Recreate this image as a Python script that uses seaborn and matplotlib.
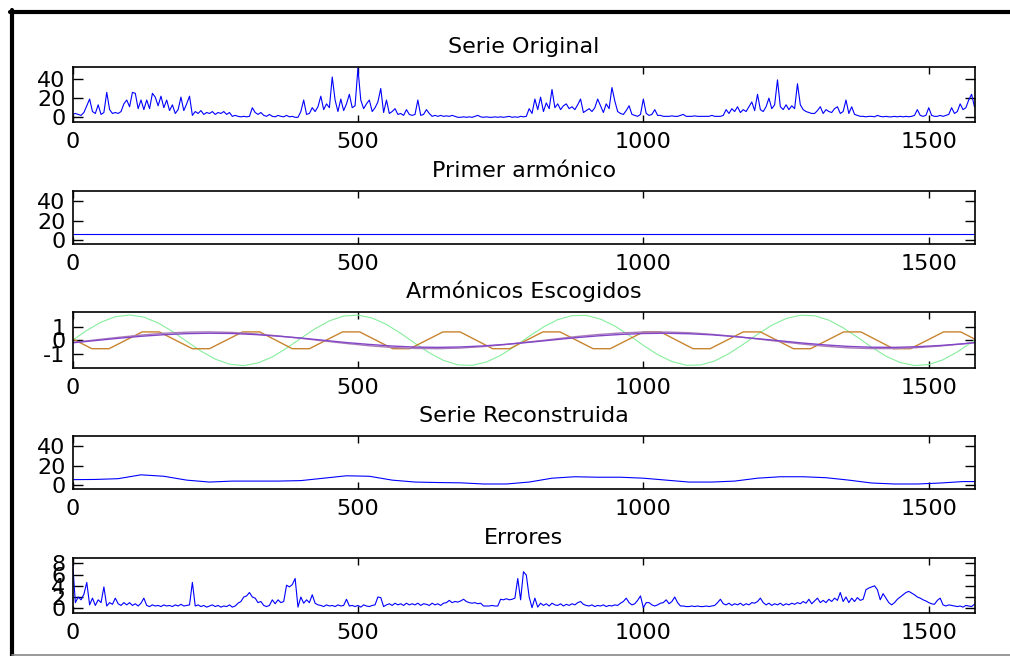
import numpy as np
import pandas as pd
import matplotlib
matplotlib.use("Agg")
import matplotlib.pyplot as plt
import seaborn as sns
from matplotlib.lines import Line2D

# ---------------- data ----------------
titles = ["Serie Original", "Primer armónico", "Armónicos Escogidos",
          "Serie Reconstruida", "Errores"]
x_ticks = [0, 500, 1000, 1500]
x_tick_labels = ["0", "500", "1000", "1500"]

step_noisy = 5
original = [
    3, 4, 3, 2, 5, 12, 19, 6, 4, 13, 3, 5, 26, 8, 4, 5, 4, 6, 14, 18,
    11, 26, 25, 9, 18, 8, 18, 9, 25, 21, 12, 22, 10, 18, 7, 13, 4, 8, 21, 7,
    14, 22, 2, 6, 4, 7, 3, 5, 4, 6, 3, 5, 4, 6, 3, 5, 1, 2, 1, 0.5,
    1, 0.5, 1, 10, 5, 3, 5, 2, 1, 3, 1, 0.5, 2, 1, 0.5, 2, 0.5, 1, 0, 0,
    6, 18, 3, 4, 10, 6, 11, 22, 8, 14, 10, 42, 18, 6, 19, 7, 14, 24, 10, 12,
    51, 18, 9, 14, 18, 6, 10, 16, 30, 5, 18, 4, 6, 9, 3, 4, 2, 8, 3, 2,
    3, 18, 2, 3, 8, 4, 1, 2, 1, 2, 1, 1.5, 1, 2, 1, 0, 0, 0.5, 0, 0.5,
    0, 1, 2, 0.5, 0, 0.5, 0, 0, 0.5, 0, 0.5, 0, 0.5, 1, 0, 0.5, 0, 1, 0.5, 1,
    9, 4, 19, 8, 21, 6, 15, 9, 29, 10, 14, 8, 12, 14, 9, 11, 8, 13, 19, 5,
    7, 9, 6, 10, 19, 12, 5, 14, 9, 31, 17, 6, 4, 3, 7, 12, 3, 2, 1, 3,
    19, 4, 2, 3, 8, 2, 2, 1, 1, 1, 1.5, 1, 1, 2, 3, 1, 1, 1, 1.5, 1,
    1, 1, 1, 1, 2, 1, 1, 1, 2, 8, 4, 9, 6, 11, 5, 8, 6, 11, 16, 7,
    24, 8, 6, 11, 20, 9, 13, 39, 11, 8, 13, 8, 12, 9, 35, 13, 8, 6, 5, 4,
    4, 7, 11, 4, 8, 6, 5, 9, 11, 4, 6, 18, 4, 11, 3, 2, 1, 1, 0.5, 1,
    1, 0.5, 2, 1, 0.5, 1, 0.5, 0.5, 1, 0.5, 1, 0.5, 1, 0.5, 1, 2, 8, 2, 1, 2,
    10, 2, 1, 1, 2, 1, 2, 3, 10, 4, 6, 14, 8, 10, 18, 24, 11,
]

errors = [
    8.5, 1.0, 2.0, 1.5, 2.5, 4.6, 0.6, 1.8, 0.5, 1.5, 1.0, 3.8, 0.4, 1.0, 0.7, 1.8, 0.8, 0.5, 1.0, 0.6,
    1.0, 0.5, 0.8, 0.4, 0.9, 1.8, 0.5, 0.3, 0.6, 0.4, 0.5, 0.3, 0.6, 0.4, 0.5, 0.3, 0.6, 0.4, 0.7, 0.4,
    0.5, 0.6, 4.6, 0.4, 0.6, 0.3, 0.5, 0.2, 0.4, 0.6, 0.3, 0.5, 0.2, 0.4, 0.3, 0.6, 0.2, 0.4, 0.9, 1.2,
    2.0, 2.2, 2.8, 2.0, 1.8, 1.0, 1.2, 0.5, 0.3, 0.5, 1.5, 0.8, 1.5, 1.0, 1.2, 4.1, 3.8, 4.2, 5.3, 0.2,
    2.0, 0.9, 1.5, 1.0, 2.4, 0.9, 0.6, 0.5, 0.3, 0.6, 0.4, 0.5, 0.3, 0.6, 0.4, 0.5, 1.6, 0.4, 0.5, 0.3,
    0.5, 0.2, 0.6, 0.4, 0.3, 0.5, 0.6, 2.0, 1.9, 0.3, 0.6, 0.8, 0.5, 0.9, 0.6, 0.8, 0.5, 0.9, 0.6, 0.8,
    0.6, 0.9, 0.5, 0.8, 0.7, 0.5, 0.9, 0.6, 0.8, 0.5, 0.9, 1.0, 1.4, 1.0, 1.2, 1.1, 1.3, 1.6, 1.2, 1.0,
    0.9, 1.0, 0.8, 0.9, 0.4, 0.4, 0.4, 0.5, 0.4, 0.4, 1.6, 1.5, 1.7, 1.5, 1.6, 1.8, 5.3, 1.5, 6.5, 5.9,
    2.0, 0.1, 1.8, 0.2, 0.9, 0.5, 0.8, 0.4, 0.9, 0.6, 0.5, 0.8, 0.4, 0.7, 0.5, 0.8, 0.6, 1.0, 1.2, 0.7,
    0.5, 0.4, 0.6, 0.3, 0.5, 0.4, 0.6, 0.3, 0.5, 0.4, 0.6, 0.5, 0.9, 1.2, 1.8, 1.0, 0.6, 0.8, 1.4, 2.2,
    0.1, 1.0, 1.0, 0.6, 0.4, 0.6, 0.9, 1.0, 1.5, 0.8, 1.2, 2.0, 1.0, 0.4, 0.4, 0.3, 0.3, 0.4, 0.3, 0.4,
    0.3, 0.3, 0.4, 0.3, 0.4, 0.5, 1.0, 1.6, 0.8, 0.6, 0.9, 0.5, 0.8, 0.6, 0.9, 0.5, 0.8, 0.6, 1.0, 0.9,
    1.2, 1.8, 1.0, 0.6, 0.9, 0.5, 0.8, 0.6, 0.9, 0.5, 0.8, 0.6, 0.9, 0.7, 1.0, 0.8, 1.2, 0.9, 1.6, 0.8,
    1.3, 1.8, 1.0, 1.4, 1.0, 1.6, 1.2, 1.8, 1.4, 2.8, 1.2, 2.0, 1.0, 1.8, 1.2, 1.9, 1.4, 1.6, 3.3, 3.6,
    3.8, 4.0, 3.3, 1.5, 2.6, 1.8, 1.0, 0.6, 1.0, 1.6, 2.0, 2.4, 2.8, 3.0, 2.7, 2.4, 2.0, 1.8, 1.5, 1.3,
    1.0, 0.8, 0.7, 1.4, 1.8, 0.6, 0.4, 0.6, 0.5, 0.4, 0.3, 0.4, 0.2, 0.5, 0.4, 0.3, 0.7,
]

first_harmonic_x = [0, 1580]
first_harmonic = [5.8, 5.8]

green_x = list(range(0, 1576, 25)) + [1580]
green = [0, 0.74, 1.36, 1.77, 1.90, 1.74, 1.30, 0.67, -0.08, -0.81, -1.41, -1.79, -1.90,
         -1.70, -1.25, -0.59, 0.15, 0.87, 1.46, 1.82, 1.89, 1.67, 1.19, 0.52, -0.23,
         -0.94, -1.51, -1.84, -1.88, -1.63, -1.13, -0.45, 0.30, 1.00, 1.55, 1.85, 1.87,
         1.59, 1.07, 0.38, -0.38, -1.07, -1.59, -1.87, -1.85, -1.55, -1.00, -0.30, 0.45,
         1.13, 1.63, 1.88, 1.84, 1.51, 0.94, 0.23, -0.52, -1.19, -1.67, -1.89, -1.82,
         -1.46, -0.87, -0.15, 0.0]

orange_x = [0, 34, 64, 122, 152, 210, 240, 298, 328, 385, 415, 473, 503, 561, 591,
            649, 679, 736, 766, 824, 854, 912, 942, 1000, 1030, 1087, 1117, 1175, 1205,
            1263, 1293, 1351, 1381, 1438, 1468, 1526, 1556, 1580]
orange = [0.11] + [-0.63, -0.63, 0.63, 0.63] * 9 + [0.10]

purple_x = list(range(0, 1561, 40)) + [1580]
purple = [-0.19, -0.02, 0.15, 0.30, 0.42, 0.50, 0.53, 0.51, 0.43, 0.31,
          0.17, 0.00, -0.17, -0.31, -0.43, -0.51, -0.53, -0.50, -0.42, -0.30,
          -0.15, 0.02, 0.19, 0.33, 0.44, 0.51, 0.53, 0.49, 0.41, 0.28,
          0.12, -0.04, -0.21, -0.35, -0.46, -0.52, -0.53, -0.48, -0.39, -0.26,
          -0.18]
mauve = [-0.17, 0.03, 0.22, 0.39, 0.53, 0.61, 0.63, 0.59, 0.48, 0.33,
         0.15, -0.05, -0.24, -0.41, -0.54, -0.61, -0.63, -0.58, -0.47, -0.31,
         -0.12, 0.07, 0.27, 0.43, 0.55, 0.62, 0.62, 0.57, 0.45, 0.29,
         0.10, -0.10, -0.29, -0.45, -0.57, -0.62, -0.62, -0.55, -0.43, -0.27,
         -0.17]

recon_x = list(range(0, 1561, 40)) + [1580]
reconstructed = [5.5, 5.7, 6.5, 10.5, 9.0, 5.0, 3.0, 4.0, 4.0, 4.0,
                 4.5, 7.0, 9.5, 9.0, 5.0, 3.0, 2.5, 2.2, 1.0, 1.0,
                 3.0, 7.0, 8.5, 8.0, 8.0, 7.0, 5.0, 3.0, 3.0, 4.0,
                 7.0, 8.5, 8.5, 7.5, 5.0, 2.0, 1.0, 1.0, 2.0, 3.5, 3.5]

noisy_x = list(range(0, 1581, step_noisy))

# ---------------- style ----------------
sns.set_style("ticks")
plt.rcParams['font.family'] = ['DejaVu Sans']
FS = 16

fig = plt.figure(figsize=(10.10, 6.56), dpi=100)
W, H = 1010, 656

def add_axes(top_px, bottom_px):
    left, right = 72.5, 975
    return fig.add_axes([left / W, 1 - bottom_px / H, (right - left) / W,
                         (bottom_px - top_px) / H])

panels = [(66.7, 122.3), (190.7, 244.0), (312.3, 368.3), (435.7, 489.3), (557.7, 613.3)]
axes = [add_axes(t, b) for t, b in panels]

blue = "#0000ff"
lw = 0.8

def line(ax, x, y, color, lw=lw):
    df = pd.DataFrame({"x": x, "y": y})
    sns.lineplot(data=df, x="x", y="y", ax=ax, color=color, linewidth=lw,
                 estimator=None, sort=False, legend=False)

line(axes[0], noisy_x, original, blue)
line(axes[1], first_harmonic_x, first_harmonic, blue)
line(axes[2], green_x, green, "#86ee9c")
line(axes[2], orange_x, orange, "#c8842e", lw=1.0)
line(axes[2], purple_x, mauve, "#a87cb8", lw=1.0)
line(axes[2], purple_x, purple, "#8446c8", lw=1.0)
line(axes[3], recon_x, reconstructed, blue)
line(axes[4], noisy_x, errors, blue)

ylims = [(-5.2, 52.7), (-4.1, 50.6), (-2.1, 2.1), (-4.5, 51.0), (-0.9, 9.0)]
yticks = [[0, 20, 40], [0, 20, 40], [-1, 0, 1], [0, 20, 40], [0, 2, 4, 6, 8]]

for ax, title, yl, yt in zip(axes, titles, ylims, yticks):
    ax.set_xlim(0, 1581)
    ax.set_ylim(*yl)
    ax.set_xticks(x_ticks)
    ax.set_xticklabels(x_tick_labels)
    ax.set_yticks(yt)
    ax.set_yticklabels([str(v) for v in yt])
    ax.set_xlabel("")
    ax.set_ylabel("")
    ax.set_title(title, fontsize=FS, pad=10, color="black")
    for s in ax.spines.values():
        s.set_visible(True)
        s.set_linewidth(1.2)
        s.set_color("black")
    ax.tick_params(axis="both", direction="in", top=True, right=True,
                   labelsize=FS, colors="black", width=1.0)
    ax.tick_params(axis="x", length=5, pad=7)
    ax.tick_params(axis="y", length=7, pad=5)
    ax.set_facecolor("white")

# figure frame
fig.add_artist(Line2D([10 / W, 1.0], [1 - 11.5 / H, 1 - 11.5 / H],
                      transform=fig.transFigure, color="black", linewidth=3))
fig.add_artist(Line2D([12 / W, 12 / W], [0, 1 - 10 / H],
                      transform=fig.transFigure, color="black", linewidth=3))
fig.add_artist(Line2D([12 / W, 1.0], [1.5 / H, 1.5 / H],
                      transform=fig.transFigure, color="#888888", linewidth=1.2))

fig.savefig("out.png", dpi=100)
